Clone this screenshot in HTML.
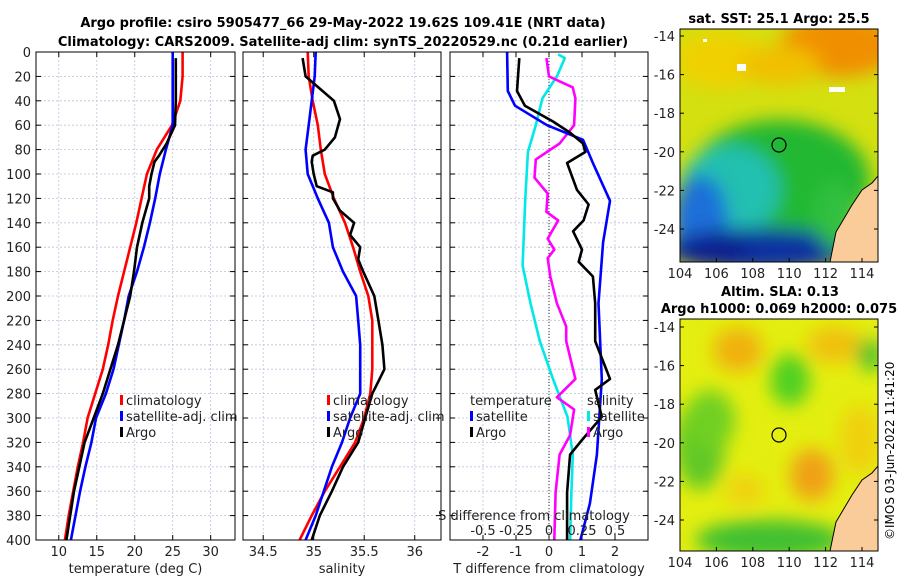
<!DOCTYPE html>
<html><head><meta charset="utf-8"><style>
body{margin:0;background:#fff}
svg{display:block;font-family:"DejaVu Sans","Liberation Sans",sans-serif}
</style></head><body>
<svg id="fig" width="900" height="580" viewBox="0 0 900 580">
<defs>
<filter id="b1" x="-50%" y="-50%" width="200%" height="200%"><feGaussianBlur stdDeviation="9"/></filter>
<clipPath id="c1"><rect x="680" y="29" width="198" height="233"/></clipPath>
<clipPath id="c2"><rect x="680" y="319" width="198" height="232"/></clipPath>
</defs>
<text x="343" y="27" font-size="13" font-weight="bold" text-anchor="middle">Argo profile: csiro 5905477_66 29-May-2022 19.62S 109.41E (NRT data)</text>
<text x="343" y="46" font-size="13" font-weight="bold" text-anchor="middle">Climatology: CARS2009. Satellite-adj clim: synTS_20220529.nc (0.21d earlier)</text>
<g id="plots"></g>
<g clip-path="url(#c1)">
<rect x="680" y="29" width="198" height="233" fill="#d4e010"/>
<g filter="url(#b1)">
<ellipse cx="840" cy="45" rx="60" ry="32" fill="#f09000"/>
<ellipse cx="720" cy="60" rx="45" ry="28" fill="#f0d000"/>
<ellipse cx="780" cy="65" rx="40" ry="20" fill="#f0c000"/>
<ellipse cx="780" cy="180" rx="90" ry="60" fill="#22b830"/>
<ellipse cx="730" cy="190" rx="50" ry="45" fill="#20c0b0"/>
<ellipse cx="700" cy="220" rx="28" ry="45" fill="#1a70d8"/>
<ellipse cx="760" cy="250" rx="95" ry="22" fill="#0a30a0"/>
<ellipse cx="715" cy="250" rx="35" ry="18" fill="#0a2090"/>
<ellipse cx="835" cy="215" rx="20" ry="35" fill="#30c040"/>
</g>
<rect x="737" y="64" width="9" height="7" fill="#fff"/><rect x="829" y="87" width="16" height="5" fill="#fff"/><rect x="703" y="39" width="4" height="3" fill="#fff"/>
<path d="M830 262 L836 232 L852 205 L862 190 L872 183 L878 176 L878 262 Z" fill="#f9cc99" stroke="#000" stroke-width="1"/>
<circle cx="779" cy="145" r="7" fill="none" stroke="#000" stroke-width="1.2"/>
</g>
<rect x="680" y="29" width="198" height="233" fill="none" stroke="#000" stroke-width="1"/>
<g clip-path="url(#c2)">
<rect x="680" y="319" width="198" height="232" fill="#e4ee10"/>
<g filter="url(#b1)">
<ellipse cx="738" cy="350" rx="25" ry="22" fill="#f0b010"/>
<ellipse cx="835" cy="345" rx="28" ry="18" fill="#f0c010"/>
<ellipse cx="870" cy="355" rx="12" ry="16" fill="#30c030"/>
<ellipse cx="790" cy="380" rx="20" ry="26" fill="#50d020"/>
<ellipse cx="700" cy="445" rx="25" ry="45" fill="#60c828"/>
<ellipse cx="710" cy="420" rx="25" ry="30" fill="#70d020"/>
<ellipse cx="812" cy="475" rx="22" ry="26" fill="#f0a018"/>
<ellipse cx="770" cy="540" rx="75" ry="20" fill="#40c030"/>
<ellipse cx="745" cy="490" rx="20" ry="15" fill="#f0d010"/>
<ellipse cx="860" cy="440" rx="20" ry="35" fill="#f0d010"/>
</g>
<path d="M830 551 L836 522 L852 495 L862 480 L872 473 L878 466 L878 551 Z" fill="#f9cc99" stroke="#000" stroke-width="1"/>
<circle cx="779" cy="435" r="7" fill="none" stroke="#000" stroke-width="1.2"/>
</g>
<rect x="680" y="319" width="198" height="232" fill="none" stroke="#000" stroke-width="1"/>
<text x="779" y="23" font-size="13" font-weight="bold" text-anchor="middle">sat. SST: 25.1 Argo: 25.5</text>
<text x="780" y="296" font-size="13" font-weight="bold" text-anchor="middle">Altim. SLA: 0.13</text>
<text x="779" y="313" font-size="13" font-weight="bold" text-anchor="middle">Argo h1000: 0.069 h2000: 0.075</text>
<text transform="translate(894,540) rotate(-90)" font-size="12">©IMOS 03-Jun-2022 11:41:20</text>
<g id="maps"></g>
</svg>
<script>
const tDepth=[0,20,40,60,80,100,120,140,160,180,200,220,240,260,280,300,320,340,360,380,400];
const tClim=[26.3,26.3,26.0,24.9,22.9,21.6,20.9,20.2,19.4,18.6,17.8,17.1,16.5,15.8,14.8,13.8,13.2,12.5,11.9,11.3,10.8];
const tSat=[25.0,25.0,25.0,25.0,24.1,23.3,22.7,22.0,21.2,20.3,19.2,18.6,17.9,17.2,16.2,14.9,14.3,13.5,12.8,12.2,11.6];
const tArgoDepth=[5,20,40,60,75,85,90,100,110,120,140,160,180,200,240,280,300,320,340,360,380,400];
const tArgo=[25.4,25.4,25.4,25.3,24.2,23.2,22.6,22.2,21.9,21.9,21.0,20.3,19.9,19.4,17.8,15.8,14.6,13.4,12.7,12.0,11.5,11.0];
const sDepth=[0,20,40,60,80,100,120,140,160,180,200,220,240,260,280,300,320,340,360,380,400];
const sClim=[34.94,34.95,34.99,35.04,35.07,35.11,35.2,35.31,35.39,35.46,35.54,35.58,35.58,35.58,35.56,35.5,35.41,35.26,35.11,34.98,34.86];
const sSat=[35.02,35.01,34.98,34.95,34.92,34.94,35.04,35.15,35.19,35.29,35.42,35.44,35.46,35.46,35.46,35.36,35.28,35.18,35.1,35.02,34.92];
const sArgoDepth=[5,20,30,40,55,70,80,85,90,100,110,115,120,130,140,150,160,170,180,200,220,240,260,270,280,300,320,340,360,380,400];
const sArgo=[34.89,34.92,35.06,35.2,35.26,35.21,35.11,34.99,34.98,35.0,35.03,35.19,35.19,35.26,35.4,35.36,35.46,35.44,35.49,35.6,35.64,35.68,35.7,35.64,35.58,35.51,35.44,35.29,35.18,35.06,34.98];
const dtSatDepth=[0,32,44,60,72,91,122,156,206,268,330,370,400];
const dtSat=[-1.27,-1.25,-1.03,-0.06,1.03,1.33,1.85,1.64,1.5,1.6,1.45,1.24,0.95];
const dtArgoDepth=[5,32,44,57,66,75,82,91,113,125,138,147,162,172,184,206,237,268,277,299,318,330,361,400];
const dtArgo=[-0.9,-0.97,-0.73,0.12,0.63,1.03,1.1,0.55,0.85,1.2,1.05,0.73,1.0,0.9,1.33,1.4,1.4,1.85,1.4,1.6,1.0,0.64,0.55,0.55];
const dsSatDepth=[2,5,20,38,60,82,122,175,206,237,268,299,330,361,400];
const dsSat=[0.07,0.12,0.06,-0.05,-0.1,-0.16,-0.18,-0.2,-0.14,-0.07,0.03,0.14,0.18,0.17,0.16];
const dsArgoDepth=[5,20,29,38,60,75,88,103,116,131,138,153,162,169,184,206,225,237,268,283,293,314,330,361,400];
const dsArgo=[-0.02,0.0,0.18,0.2,0.19,0.08,-0.1,-0.11,-0.01,-0.02,0.07,-0.01,0.04,-0.01,0.01,0.06,0.13,0.13,0.2,0.06,0.19,0.16,0.08,0.05,0.04];
const depthTicks=[0,20,40,60,80,100,120,140,160,180,200,220,240,260,280,300,320,340,360,380,400];
const tTicks=[10,15,20,25,30];
const sTicks=[34.5,35,35.5,36];
const dtTicks=[-2,-1,0,1,2];
const dsTicks=[-0.5,-0.25,0,0.25,0.5];
const mapLonTicks=[104,106,108,110,112,114];
const mapLatTicks=[-14,-16,-18,-20,-22,-24];

const NS='http://www.w3.org/2000/svg';
const root=document.getElementById('plots');
function mk(tag,attrs,parent){const e=document.createElementNS(NS,tag);for(const k in attrs)e.setAttribute(k,attrs[k]);(parent||root).appendChild(e);return e;}
const Y0=52,Y1=540;
function yD(d){return Y0+d*(Y1-Y0)/400;}
function axisX(x0,x1,v0,v1){return v=>x0+(v-v0)*(x1-x0)/(v1-v0);}

const panels=[
 {x0:36,x1:235,v0:7,v1:33.2,ticks:tTicks,label:'temperature (deg C)',name:'temperature-panel',ylabels:true},
 {x0:243,x1:441,v0:34.3,v1:36.26,ticks:sTicks,label:'salinity',name:'salinity-panel'},
 {x0:450,x1:648,v0:-3,v1:3,ticks:dtTicks,label:'T difference from climatology',name:'difference-panel'}
];
panels.forEach(p=>{
 const g=mk('g',{});
 
 
 p.g=g;p.fx=axisX(p.x0,p.x1,p.v0,p.v1);
 depthTicks.forEach(d=>{
  const l=mk('line',{x1:p.x0,x2:p.x1,y1:yD(d),y2:yD(d),stroke:'#b8c4dc','stroke-width':0.8,'stroke-dasharray':'2,2'},g);
  
  
  mk('line',{x1:p.x0,x2:p.x0+5,y1:yD(d),y2:yD(d),stroke:'#000'},g);
  mk('line',{x1:p.x1-5,x2:p.x1,y1:yD(d),y2:yD(d),stroke:'#000'},g);
  if(p.ylabels){const t=mk('text',{x:31,y:yD(d)+5,'font-size':13,'text-anchor':'end',fill:'#222'},g);t.textContent=d;
   
   }
 });
 p.ticks.forEach(v=>{
  const x=p.fx(v);
  mk('line',{x1:x,x2:x,y1:Y0,y2:Y1,stroke:'#b8c4dc','stroke-width':0.8,'stroke-dasharray':'2,2'},g);
  mk('line',{x1:x,x2:x,y1:Y1-5,y2:Y1,stroke:'#000'},g);
  mk('line',{x1:x,x2:x,y1:Y0,y2:Y0+5,stroke:'#000'},g);
  const t=mk('text',{x:x,y:556,'font-size':13,'text-anchor':'middle',fill:'#222'},g);t.textContent=v;
  
  
 });
 const xl=mk('text',{x:(p.x0+p.x1)/2,y:573,'font-size':13,'text-anchor':'middle',fill:'#222'},g);xl.textContent=p.label;
 
 
});
{const p=panels[2];mk('line',{x1:p.fx(0),x2:p.fx(0),y1:Y0,y2:Y1,stroke:'#333','stroke-width':1,'stroke-dasharray':'1,2'},p.g);}

function line(p,depths,vals,color,name,scale){
 const fx=scale||p.fx;
 const pts=depths.map((d,i)=>fx(vals[i]).toFixed(1)+','+yD(d).toFixed(1)).join(' ');
 const l=mk('polyline',{points:pts,fill:'none',stroke:color,'stroke-width':2.6,'stroke-linejoin':'round'},p.g);
 
 
}
const P=panels;
line(P[0],tDepth,tClim,'#ff0000','temperature-climatology-line');
line(P[0],tDepth,tSat,'#0000ff','temperature-satellite-line');
line(P[0],tArgoDepth,tArgo,'#000','temperature-argo-line');
line(P[1],sDepth,sClim,'#ff0000','salinity-climatology-line');
line(P[1],sDepth,sSat,'#0000ff','salinity-satellite-line');
line(P[1],sArgoDepth,sArgo,'#000','salinity-argo-line');
const fS=axisX(450,648,-0.75,0.75);
line(P[2],dsSatDepth,dsSat,'#00e8e8','salinity-diff-satellite-line',fS);
line(P[2],dsArgoDepth,dsArgo,'#ff00ff','salinity-diff-argo-line',fS);
line(P[2],dtSatDepth,dtSat,'#0000ff','temperature-diff-satellite-line');
line(P[2],dtArgoDepth,dtArgo,'#000','temperature-diff-argo-line');
P.forEach(p=>mk('rect',{x:p.x0,y:Y0,width:p.x1-p.x0,height:Y1-Y0,fill:'none',stroke:'#000','stroke-width':1},p.g));

{const g=P[2].g;
 const t=mk('text',{x:534,y:520,'font-size':13,'text-anchor':'middle',fill:'#222'},g);t.textContent='S difference from climatology';
 
 
 dsTicks.forEach(v=>{const x=fS(v);const s=mk('text',{x:x,y:535,'font-size':13,'text-anchor':'middle',fill:'#222'},g);s.textContent=v;
  
  });
}
function legend(x,y,items,name){
 const g=mk('g',{});
 
 
 items.forEach((it,i)=>{
  if(it[1])mk('rect',{x:x,y:y+i*16-10,width:3,height:10,fill:it[1]},g);
  const t=mk('text',{x:x+(it[1]?6:0),y:y+i*16,'font-size':13,fill:'#222'},g);t.textContent=it[0];
 });
}
legend(120,405,[['climatology','#ff0000'],['satellite-adj. clim','#0000ff'],['Argo','#000']],'temperature-legend');
legend(327,405,[['climatology','#ff0000'],['satellite-adj. clim','#0000ff'],['Argo','#000']],'salinity-legend');
legend(470,405,[['temperature',null],['satellite','#0000ff'],['Argo','#000']],'diff-temperature-legend');
legend(587,405,[['salinity',null],['satellite','#00e8e8'],['Argo','#ff00ff']],'diff-salinity-legend');

const mg=document.getElementById('maps');
function mapAxes(yLat14,yLat24,bottom,name){
 const fx=axisX(680,862,104,114), fy=axisX(yLat14,yLat24,-14,-24);
 mapLonTicks.forEach(v=>{const x=fx(v);mk('line',{x1:x,x2:x,y1:bottom-4,y2:bottom,stroke:'#000'},mg);
  const t=mk('text',{x:x,y:bottom+16,'font-size':13,'text-anchor':'middle',fill:'#222'},mg);t.textContent=v;
  
  });
 mapLatTicks.forEach(v=>{const y=fy(v);mk('line',{x1:680,x2:684,y1:y,y2:y,stroke:'#000'},mg);mk('line',{x1:874,x2:878,y1:y,y2:y,stroke:'#000'},mg);
  const t=mk('text',{x:675,y:y+5,'font-size':13,'text-anchor':'end',fill:'#222'},mg);t.textContent=v;
  
  });
}
mapAxes(36,229,262,'sst-map');
mapAxes(327,520,551,'sla-map');
</script>
</body></html>
